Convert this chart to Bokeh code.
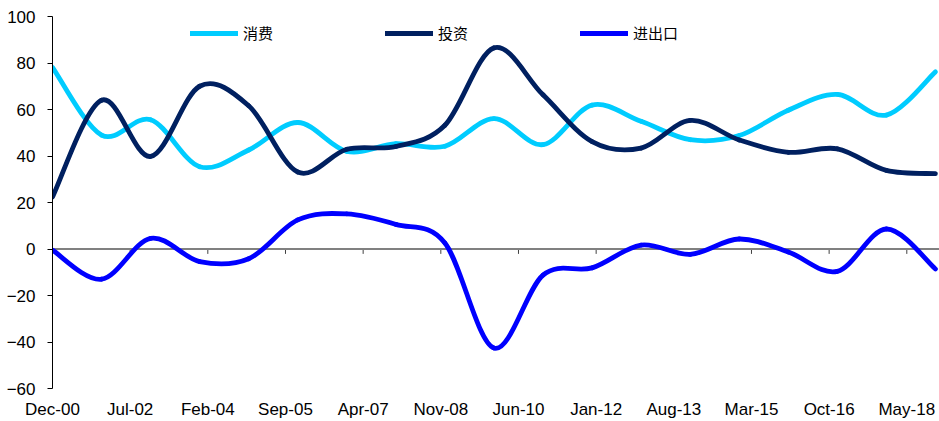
import numpy as np
from bokeh.plotting import figure
from bokeh.models import (Range1d, FixedTicker, Span, Legend, LegendItem,
                          ColumnDataSource)
from bokeh.embed import file_html
from bokeh.resources import INLINE

# Contribution of the three demand components to GDP growth (%), 2000-2018
years = list(range(2000, 2019))
consumption = [78.1, 49.0, 55.6, 35.4, 42.6, 54.4, 42.0, 45.3, 44.2, 56.1,
               44.9, 61.9, 54.9, 47.0, 48.8, 59.7, 66.5, 57.6, 76.2]
investment = [22.4, 64.0, 39.8, 70.0, 61.6, 33.1, 42.9, 44.1, 53.2, 86.5,
              66.3, 46.2, 43.4, 55.3, 46.9, 41.6, 43.1, 33.8, 32.4]
net_exports = [-0.5, -13.0, 4.6, -5.4, -4.2, 12.5, 15.1, 10.6, 2.6, -42.6,
               -11.2, -8.1, 1.7, -2.3, 4.3, -1.3, -9.6, 8.6, -8.6]

series_names = ["消费", "投资", "进出口"]
series_colors = ["#00CCFF", "#002060", "#0000FF"]

tick_labels = ["Dec-00", "Jul-02", "Feb-04", "Sep-05", "Apr-07", "Nov-08",
               "Jun-10", "Jan-12", "Aug-13", "Mar-15", "Oct-16", "May-18"]
tick_step_months = 19

y_min, y_max, y_step = -60, 100, 20

# x measured in months since Dec-2000 (annual observations taken in December)
months = np.array([(y - years[0]) * 12 for y in years], dtype=float)
tick_pos = [i * tick_step_months for i in range(len(tick_labels))]


def smooth_segments(x, y):
    """Catmull-Rom style cubic Bezier control points between consecutive points."""
    x = np.asarray(x, dtype=float)
    y = np.asarray(y, dtype=float)
    n = len(x)
    xp = np.concatenate([[x[0]], x, [x[-1]]])
    yp = np.concatenate([[y[0]], y, [y[-1]]])
    cx0 = x[:-1] + (xp[2:n + 1] - xp[0:n - 1]) / 6.0
    cy0 = y[:-1] + (yp[2:n + 1] - yp[0:n - 1]) / 6.0
    cx1 = x[1:] - (xp[3:n + 2] - xp[1:n]) / 6.0
    cy1 = y[1:] - (yp[3:n + 2] - yp[1:n]) / 6.0
    return dict(x0=x[:-1], y0=y[:-1], x1=x[1:], y1=y[1:],
                cx0=cx0, cy0=cy0, cx1=cx1, cy1=cy1)


p = figure(width=939, height=421,
           x_range=Range1d(0, 217), y_range=Range1d(y_min, y_max),
           output_backend="svg", toolbar_location=None,
           min_border_left=52, min_border_right=0,
           min_border_top=16, min_border_bottom=32)
p.outline_line_color = None
p.xgrid.visible = False
p.ygrid.visible = False
p.background_fill_color = "white"
p.border_fill_color = "white"

# y axis
p.yaxis.ticker = FixedTicker(ticks=list(range(y_min, y_max + 1, y_step)))
p.yaxis.axis_line_color = "#000000"
p.yaxis.axis_line_width = 1
p.yaxis.major_tick_line_color = "#000000"
p.yaxis.major_tick_in = 0
p.yaxis.major_tick_out = 5
p.yaxis.minor_tick_line_color = None
p.yaxis.major_label_standoff = 12
p.yaxis.major_label_text_font = "Liberation Sans"
p.yaxis.major_label_text_font_size = "17px"
p.yaxis.major_label_text_color = "#000000"

# x axis: only the labels along the bottom; the visible axis line sits at zero
p.xaxis.ticker = FixedTicker(ticks=tick_pos)
p.xaxis.major_label_overrides = {t: lab for t, lab in zip(tick_pos, tick_labels)}
p.xaxis.axis_line_color = None
p.xaxis.major_tick_line_color = None
p.xaxis.minor_tick_line_color = None
p.xaxis.major_tick_in = 0
p.xaxis.major_tick_out = 0
p.xaxis.major_label_standoff = 11
p.xaxis.major_label_text_line_height = 1.0
p.xaxis.major_label_text_font = "Liberation Sans"
p.xaxis.major_label_text_font_size = "17px"
p.xaxis.major_label_text_color = "#000000"

zero_line = Span(location=0, dimension="width", line_color="#808080",
                 line_width=2, level="underlay")
p.add_layout(zero_line)
p.segment(x0=tick_pos, y0=[0] * len(tick_pos), x1=tick_pos,
          y1=[-2.1] * len(tick_pos), line_color="#404040", line_width=1,
          level="underlay")

items = []
for name, color, vals in zip(series_names, series_colors,
                             [consumption, investment, net_exports]):
    src = ColumnDataSource(smooth_segments(months, vals))
    p.bezier(x0="x0", y0="y0", x1="x1", y1="y1",
             cx0="cx0", cy0="cy0", cx1="cx1", cy1="cy1", source=src,
             line_color=color, line_width=4.8, line_cap="round")
    # legend swatch in the same style (no visible data of its own)
    key = p.line(x=np.array([np.nan]), y=np.array([np.nan]),
                 line_color=color, line_width=5, line_cap="round")
    items.append(LegendItem(label=name, renderers=[key]))

legend = Legend(items=items, orientation="horizontal",
                location=(138, 345), padding=0, margin=0,
                spacing=112, glyph_width=48, glyph_height=20,
                label_standoff=5, label_height=20,
                label_text_font="Noto Sans CJK SC",
                label_text_font_size="15px", label_text_color="#000000",
                border_line_color=None, background_fill_alpha=0)
p.add_layout(legend)

open("out.html", "w").write(file_html(p, INLINE))
